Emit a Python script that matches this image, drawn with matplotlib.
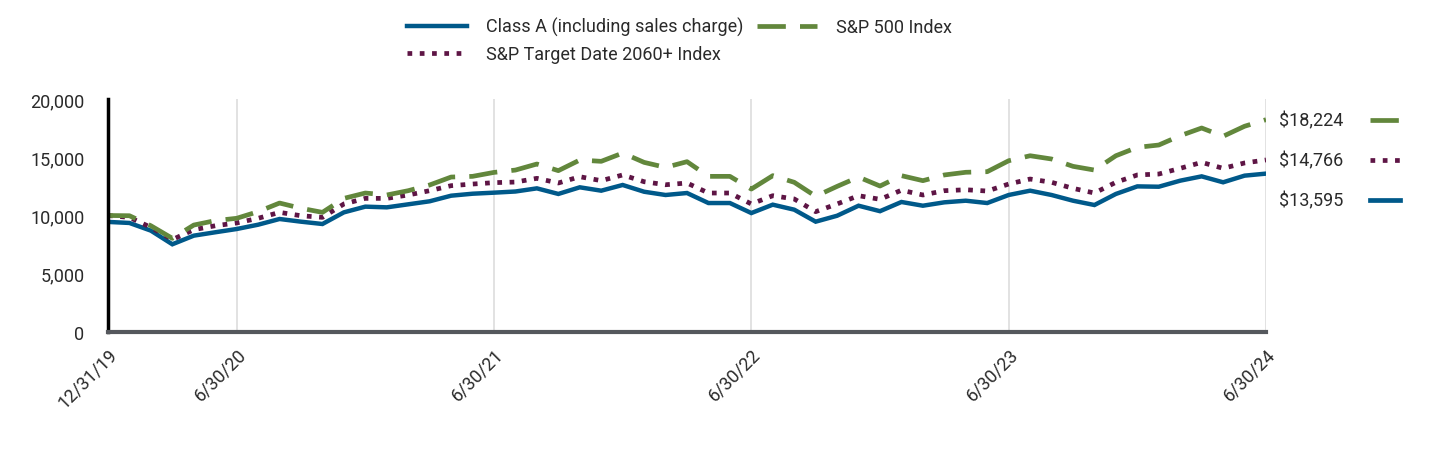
import matplotlib.pyplot as plt
from matplotlib.lines import Line2D

plt.rcParams['font.family'] = ['Roboto', 'DejaVu Sans']

# месячные точки 12/31/19 .. 6/30/24
months = list(range(55))
tick_pos = [0, 6, 18, 30, 42, 54]
tick_labels = ['12/31/19', '6/30/20', '6/30/21', '6/30/22', '6/30/23', '6/30/24']

class_a = [9450, 9360, 8700, 7530, 8270, 8560, 8840, 9210, 9700, 9470,
           9270, 10270, 10760, 10700, 10960, 11220, 11700, 11870, 11960, 12060,
           12330, 11850, 12420, 12130, 12620, 12040, 11760, 11930, 11070, 11070,
           10210, 10930, 10500, 9470, 9980, 10840, 10370, 11160, 10840, 11130,
           11270, 11070, 11760, 12130, 11760, 11270, 10900, 11850, 12500, 12470,
           12990, 13360, 12850, 13420, 13595]
sp500 = [10000, 9980, 9120, 8040, 9180, 9560, 9760, 10330, 11070, 10620,
         10270, 11470, 11930, 11760, 12130, 12620, 13300, 13360, 13700, 13900,
         14420, 13850, 14760, 14650, 15360, 14560, 14130, 14620, 13360, 13360,
         12270, 13420, 12850, 11650, 12500, 13300, 12530, 13420, 12990, 13480,
         13710, 13760, 14700, 15130, 14850, 14220, 13900, 15130, 15850, 16050,
         16850, 17510, 16800, 17660, 18224]
target_2060 = [10000, 9840, 8980, 7930, 8780, 9120, 9360, 9760, 10270, 9980,
               9840, 10990, 11470, 11470, 11760, 12130, 12560, 12700, 12820, 12870,
               13190, 12790, 13330, 12990, 13480, 12900, 12640, 12790, 11930, 11930,
               10990, 11700, 11420, 10330, 10990, 11700, 11390, 12170, 11760, 12130,
               12210, 12100, 12700, 13130, 12850, 12330, 11930, 12850, 13480, 13560,
               14050, 14560, 14050, 14510, 14766]

end_labels = ['$18,224', '$14,766', '$13,595']

blue = '#00598a'
green = '#62873c'
purple = '#5e1545'
txt = '#2a2a2a'

fig = plt.figure(figsize=(14.4, 4.56), dpi=100)
ax = fig.add_axes([108/1440, 1-333/456, (1266-108)/1440, 233/456])

l1, = ax.plot(months, class_a, color=blue, lw=3.2, solid_joinstyle='miter')
l3, = ax.plot(months, target_2060, color=purple, lw=3.4, linestyle=(0, (1, 1.6)),
              dash_capstyle='butt')
l2, = ax.plot(months, sp500, color=green, lw=3.4, linestyle=(0, (6, 3)),
              dash_capstyle='butt')

ax.set_xlim(0, 54)
ax.set_ylim(0, 20000)
ax.set_yticks([0, 5000, 10000, 15000, 20000])
ax.set_yticklabels(['0', '5,000', '10,000', '15,000', '20,000'])
ax.set_xticks(tick_pos)
ax.set_xticklabels(tick_labels, rotation=45, ha='right', rotation_mode='anchor')
ax.tick_params(axis='both', length=0, labelsize=13, colors=txt)
ax.tick_params(axis='y', pad=17)
ax.tick_params(axis='x', pad=9)
ax.grid(axis='x', color='#dddddd', lw=1.2)
ax.set_axisbelow(True)

for s in ['top', 'right']:
    ax.spines[s].set_visible(False)
ax.spines['left'].set_color('black')
ax.spines['left'].set_linewidth(2.5)
ax.spines['bottom'].set_color('#55585d')
ax.spines['bottom'].set_linewidth(3)

leg = fig.legend([l1, l3, l2],
                 ['Class A (including sales charge)', 'S&P Target Date 2060+ Index', 'S&P 500 Index'],
                 ncol=2, loc='upper left', bbox_to_anchor=(391/1440, 1-2/456),
                 frameon=False, fontsize=13, handlelength=3.3, handletextpad=1.05,
                 columnspacing=0.78, labelspacing=0.5, labelcolor=txt)

# подписи конечных значений справа
ys = [121, 161, 201]
styles = [(green, (0, (6, 3))), (purple, (0, (1, 1.6))), (blue, '-')]
for lab, y, (c, ls) in zip(end_labels, ys, styles):
    fig.text(1279/1440, 1-y/456, lab, fontsize=13, color=txt, va='center', ha='left')
    fig.add_artist(Line2D([1370/1440, 1400/1440], [1-y/456, 1-y/456], color=c, lw=3.4,
                          linestyle=ls, dash_capstyle='butt'))

fig.savefig('out.png', dpi=100)
